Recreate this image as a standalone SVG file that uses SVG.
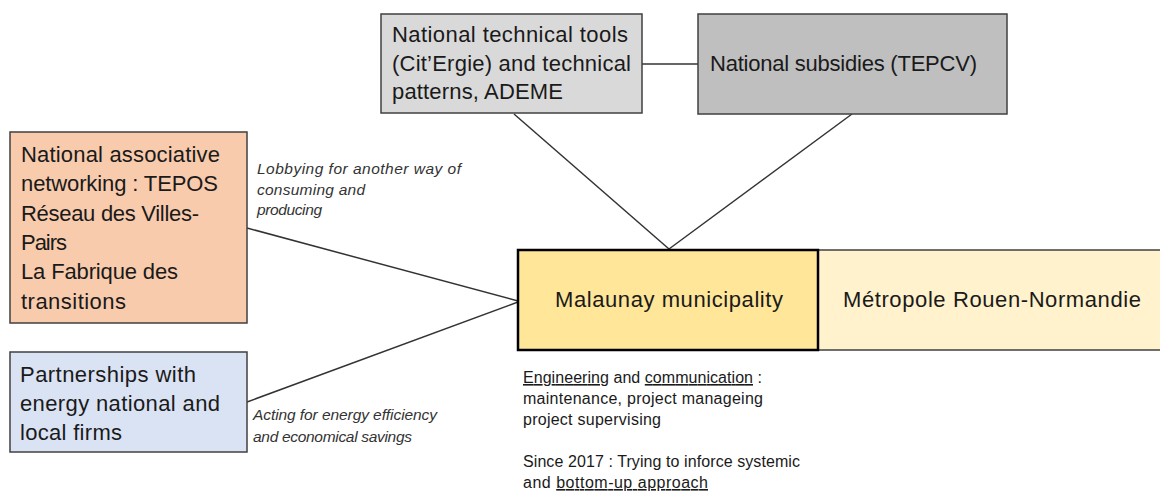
<svg xmlns="http://www.w3.org/2000/svg" width="1160" height="494" viewBox="0 0 1160 494">
<style>
.box{stroke:#404040;stroke-width:1.5}
.t{font-family:"Liberation Sans",Arial,sans-serif;font-size:22px;fill:#1a1a1a}
.l{font-family:"Liberation Sans",Arial,sans-serif;font-size:15.5px;font-style:italic;fill:#333}
.s{font-family:"Liberation Sans",Arial,sans-serif;font-size:16px;fill:#1a1a1a}
.c{stroke:#333;stroke-width:1.5;fill:none}
.u{text-decoration:underline}
</style>
<rect width="1160" height="494" fill="#ffffff"/>
<g id="connectors">
<line class="c" x1="642" y1="64" x2="698" y2="64"/>
<line class="c" x1="514" y1="114" x2="669" y2="249"/>
<line class="c" x1="852" y1="114" x2="669" y2="249"/>
<line class="c" x1="247" y1="228" x2="518" y2="301"/>
<line class="c" x1="247" y1="402" x2="518" y2="302"/>
</g>
<g id="node-tools">
<rect class="box" x="381" y="14" width="261" height="99" fill="#d9d9d9"/>
<text class="t" x="392" y="42" textLength="236">National technical tools</text>
<text class="t" x="392" y="71" textLength="239">(Cit’Ergie) and technical</text>
<text class="t" x="392" y="99" textLength="171">patterns, ADEME</text>
</g>
<g id="node-subsidies">
<rect class="box" x="698" y="14" width="309" height="100" fill="#bfbfbf"/>
<text class="t" x="710" y="71" textLength="267">National subsidies (TEPCV)</text>
</g>
<g id="node-associative">
<rect class="box" x="10" y="132" width="237" height="191" fill="#f8cbad"/>
<text class="t" x="21" y="162" textLength="199">National associative</text>
<text class="t" x="21" y="191" textLength="197">networking : TEPOS</text>
<text class="t" x="21" y="221" textLength="178">Réseau des Villes-</text>
<text class="t" x="21" y="250" textLength="46">Pairs</text>
<text class="t" x="21" y="279" textLength="157">La Fabrique des</text>
<text class="t" x="21" y="309" textLength="105">transitions</text>
</g>
<g id="node-partnerships">
<rect class="box" x="10" y="352" width="237" height="100" fill="#dae3f3"/>
<text class="t" x="20" y="382" textLength="176">Partnerships with</text>
<text class="t" x="20" y="411" textLength="200">energy national and</text>
<text class="t" x="20" y="440" textLength="102">local firms</text>
</g>
<g id="node-metropole">
<rect class="box" x="818" y="250" width="350" height="100" fill="#fff2cc"/>
<text class="t" x="843" y="307" textLength="298">Métropole Rouen-Normandie</text>
</g>
<g id="node-malaunay">
<rect x="518" y="250" width="300" height="100" fill="#ffe699" stroke="#000" stroke-width="2.5"/>
<text class="t" x="555" y="307" textLength="228">Malaunay municipality</text>
</g>
<g id="label-lobbying">
<text class="l" x="257" y="174" textLength="204">Lobbying for another way of</text>
<text class="l" x="257" y="195" textLength="108">consuming and</text>
<text class="l" x="257" y="215" textLength="65">producing</text>
</g>
<g id="label-acting">
<text class="l" x="253" y="420" textLength="184">Acting for energy efficiency</text>
<text class="l" x="253" y="442" textLength="159">and economical savings</text>
</g>
<g id="notes">
<text class="s" x="523" y="383" textLength="239"><tspan class="u">Engineering</tspan> and <tspan class="u">communication</tspan> :</text>
<text class="s" x="523" y="404" textLength="240">maintenance, project manageing</text>
<text class="s" x="523" y="425" textLength="138">project supervising</text>
<text class="s" x="523" y="467" textLength="277">Since 2017 : Trying to inforce systemic</text>
<text class="s" x="523" y="488" textLength="185">and <tspan class="u">bottom-up approach</tspan></text>
</g>
</svg>
